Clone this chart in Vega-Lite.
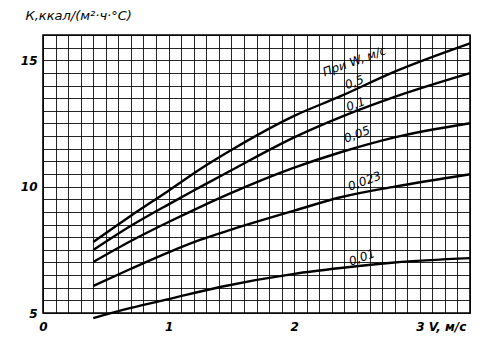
{
  "$schema": "https://vega.github.io/schema/vega-lite/v6.json",
  "width": 427,
  "height": 278,
  "autosize": "none",
  "padding": {"left": 43, "top": 35, "right": 24, "bottom": 37},
  "background": "white",
  "config": {
    "view": {"stroke": "black", "strokeWidth": 1.6},
    "font": "DejaVu Sans"
  },
  "datasets": {
    "curves": [
      {"W": "0.5", "V": 0.4, "K": 7.81},
      {"W": "0.5", "V": 0.7, "K": 8.85},
      {"W": "0.5", "V": 1.0, "K": 9.84},
      {"W": "0.5", "V": 1.25, "K": 10.69},
      {"W": "0.5", "V": 1.5, "K": 11.45},
      {"W": "0.5", "V": 2.0, "K": 12.8},
      {"W": "0.5", "V": 2.37, "K": 13.58},
      {"W": "0.5", "V": 2.8, "K": 14.55},
      {"W": "0.5", "V": 3.4, "K": 15.67},
      {"W": "0.1", "V": 0.4, "K": 7.49},
      {"W": "0.1", "V": 0.7, "K": 8.45},
      {"W": "0.1", "V": 1.0, "K": 9.3},
      {"W": "0.1", "V": 1.25, "K": 9.98},
      {"W": "0.1", "V": 1.5, "K": 10.65},
      {"W": "0.1", "V": 2.0, "K": 11.95},
      {"W": "0.1", "V": 2.37, "K": 12.75},
      {"W": "0.1", "V": 2.8, "K": 13.55},
      {"W": "0.1", "V": 3.4, "K": 14.49},
      {"W": "0.05", "V": 0.4, "K": 7.02},
      {"W": "0.05", "V": 0.7, "K": 7.85},
      {"W": "0.05", "V": 1.0, "K": 8.6},
      {"W": "0.05", "V": 1.25, "K": 9.19},
      {"W": "0.05", "V": 1.5, "K": 9.75},
      {"W": "0.05", "V": 2.0, "K": 10.75},
      {"W": "0.05", "V": 2.37, "K": 11.36},
      {"W": "0.05", "V": 2.8, "K": 11.95},
      {"W": "0.05", "V": 3.4, "K": 12.51},
      {"W": "0.023", "V": 0.4, "K": 6.07},
      {"W": "0.023", "V": 0.7, "K": 6.75},
      {"W": "0.023", "V": 1.0, "K": 7.4},
      {"W": "0.023", "V": 1.25, "K": 7.89},
      {"W": "0.023", "V": 1.5, "K": 8.3},
      {"W": "0.023", "V": 2.0, "K": 9.05},
      {"W": "0.023", "V": 2.37, "K": 9.58},
      {"W": "0.023", "V": 2.8, "K": 10.0},
      {"W": "0.023", "V": 3.4, "K": 10.49},
      {"W": "0.01", "V": 0.4, "K": 4.8},
      {"W": "0.01", "V": 0.7, "K": 5.2},
      {"W": "0.01", "V": 1.0, "K": 5.55},
      {"W": "0.01", "V": 1.41, "K": 6.03},
      {"W": "0.01", "V": 2.0, "K": 6.55},
      {"W": "0.01", "V": 2.37, "K": 6.78},
      {"W": "0.01", "V": 2.8, "K": 7.0},
      {"W": "0.01", "V": 3.4, "K": 7.17}
    ],
    "labels": [
      {"V": 2.48, "K": 14.96, "text": "При W, м/с"},
      {"V": 2.48, "K": 14.13, "text": "0,5"},
      {"V": 2.49, "K": 13.26, "text": "0,1"},
      {"V": 2.5, "K": 12.07, "text": "0,05"},
      {"V": 2.56, "K": 10.22, "text": "0,023"},
      {"V": 2.54, "K": 7.2, "text": "0,01"}
    ]
  },
  "layer": [
    {
      "data": {"name": "curves"},
      "mark": {"type": "line", "color": "black", "strokeWidth": 2.4, "interpolate": "monotone"},
      "encoding": {
        "x": {
          "field": "V", "type": "quantitative",
          "scale": {"domain": [0, 3.4], "nice": false, "zero": false},
          "axis": {
            "title": null,
            "tickCount": 100,
            "values": [0,0.1,0.2,0.3,0.4,0.5,0.6,0.7,0.8,0.9,1,1.1,1.2,1.3,1.4,1.5,1.6,1.7,1.8,1.9,2,2.1,2.2,2.3,2.4,2.5,2.6,2.7,2.8,2.9,3,3.1,3.2,3.3,3.4],
            "labelExpr": "datum.value == 3 ? '3 V, м/с' : (datum.value % 1 == 0 ? '' + datum.value : '')",
            "labelAlign": {"condition": {"test": "datum.value == 3", "value": "left"}, "value": "center"},
            "labelOffset": {"condition": {"test": "datum.value == 3", "value": -4}, "value": 0},
            "labelOverlap": false,
            "labelFlush": false,
            "labelFontStyle": "italic",
            "labelFontWeight": "bold",
            "labelFontSize": 12,
            "labelColor": "black",
            "labelPadding": 8,
            "ticks": false,
            "domain": false,
            "grid": true,
            "gridColor": "black",
            "gridWidth": 1,
            "gridOpacity": 0.85
          }
        },
        "y": {
          "field": "K", "type": "quantitative",
          "scale": {"domain": [5, 16], "nice": false, "zero": false},
          "axis": {
            "title": "К,ккал/(м²·ч·°С)",
            "titleAngle": 0,
            "titleAlign": "left",
            "titleBaseline": "bottom",
            "titleX": -18,
            "titleY": -13,
            "titleFont": "DejaVu Sans",
            "titleFontStyle": "italic",
            "titleFontWeight": "normal",
            "titleFontSize": 13,
            "titleColor": "black",
            "tickCount": 100,
            "values": [5,5.5,6,6.5,7,7.5,8,8.5,9,9.5,10,10.5,11,11.5,12,12.5,13,13.5,14,14.5,15,15.5,16],
            "labelExpr": "datum.value % 5 == 0 ? '' + datum.value : ''",
            "labelOverlap": false,
            "labelFlush": false,
            "labelFontStyle": "italic",
            "labelFontWeight": "bold",
            "labelFontSize": 12,
            "labelColor": "black",
            "labelPadding": 6,
            "ticks": false,
            "domain": false,
            "grid": true,
            "gridColor": "black",
            "gridWidth": 1,
            "gridOpacity": 0.85
          }
        },
        "detail": {"field": "W", "type": "nominal"}
      }
    },
    {
      "data": {"name": "labels"},
      "mark": {"type": "text", "angle": -20, "fontStyle": "italic", "fontSize": 12, "color": "black", "align": "center", "baseline": "middle", "font": "DejaVu Sans"},
      "encoding": {
        "x": {"field": "V", "type": "quantitative"},
        "y": {"field": "K", "type": "quantitative"},
        "text": {"field": "text", "type": "nominal"}
      }
    }
  ]
}
